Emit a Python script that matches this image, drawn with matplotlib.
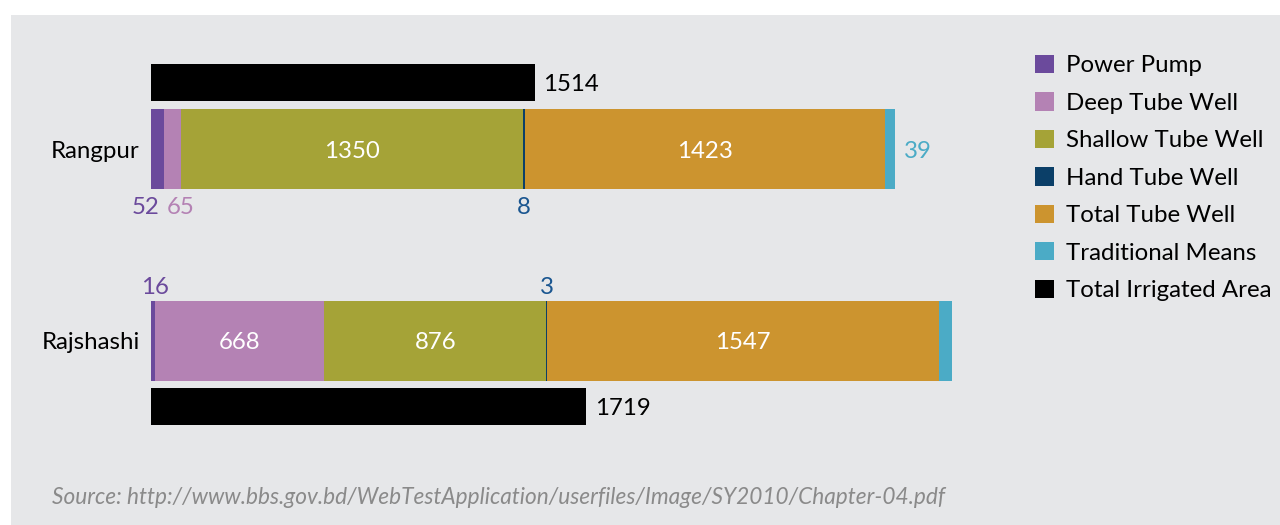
import matplotlib.pyplot as plt
from matplotlib.patches import Rectangle

plt.rcParams['font.family'] = ['Lato', 'DejaVu Sans']

regions = ["Rangpur", "Rajshashi"]
sources = ["Power Pump", "Deep Tube Well", "Shallow Tube Well", "Hand Tube Well",
           "Total Tube Well", "Traditional Means"]
rangpur = [52, 65, 1350, 8, 1423, 39]
rajshashi = [16, 668, 876, 3, 1547, 56]
total_irrigated = [1514, 1719]
total_label = "Total Irrigated Area"
source_note = "Source: http://www.bbs.gov.bd/WebTestApplication/userfiles/Image/SY2010/Chapter-04.pdf"

colors = ["#6b4a9c", "#b482b4", "#a5a337", "#0b3f68", "#cc942f", "#4babc6"]
label_colors = ["#6b4a9c", "#b482b4", None, "#1a5690", None, "#4babc6"]
bg = "#e6e7e9"
fs = 17.3

fig = plt.figure(figsize=(12.8, 5.25), dpi=100)
fig.patch.set_facecolor("white")
fig.patches.append(Rectangle((11 / 1280, 0), 1 - 11 / 1280, 510 / 525,
                             transform=fig.transFigure, facecolor=bg,
                             edgecolor="none", zorder=-10))

# axes: x=0 at px 151, 801 px wide; y from px 40 to 440
ax = fig.add_axes([151 / 1280, 85 / 525, 801 / 1280, 400 / 525])
ax.set_facecolor("none")
ax.set_xlim(0, 3162)
ax.set_ylim(1.516, -0.568)
for s in ax.spines.values():
    s.set_visible(False)
ax.set_xticks([])
ax.set_yticks([0, 1])
ax.set_yticklabels(regions, fontsize=fs)
ax.tick_params(axis="y", length=0, pad=8)

stack_h = 0.417
tot_h = 0.193
tot_off = [-0.346, 0.341]
dy = -2  # small downward nudge for value labels

data = [rangpur, rajshashi]
handles = []
for i, vals in enumerate(data):
    left = 0
    for j, v in enumerate(vals):
        b = ax.barh(i, v, left=left, height=stack_h, color=colors[j], linewidth=0)
        if i == 0:
            handles.append(b)
        left += v
    tb = ax.barh(i + tot_off[i], total_irrigated[i], height=tot_h, color="black", linewidth=0)
    if i == 0:
        tot_handle = tb
    ax.annotate(str(total_irrigated[i]), (total_irrigated[i], i + tot_off[i]),
                xytext=(9, dy), textcoords="offset pixels", ha="left", va="center",
                fontsize=fs, color="black")

# inside labels
for i, vals in enumerate(data):
    lefts = [sum(vals[:k]) for k in range(len(vals))]
    for j in range(len(vals)):
        if vals[j] >= 500:
            ax.annotate(str(vals[j]), (lefts[j] + vals[j] / 2, i), xytext=(0, dy),
                        textcoords="offset pixels", ha="center", va="center",
                        color="white", fontsize=fs)

# small outside labels - Rangpur (below)
r_l = [sum(rangpur[:k]) for k in range(len(rangpur))]
yb = stack_h / 2
ax.annotate(str(rangpur[0]), (r_l[1], yb), xytext=(-5, -18), textcoords="offset pixels",
            ha="right", va="center", fontsize=fs, color=label_colors[0])
ax.annotate(str(rangpur[1]), (r_l[1], yb), xytext=(3, -18), textcoords="offset pixels",
            ha="left", va="center", fontsize=fs, color=label_colors[1])
ax.annotate(str(rangpur[3]), (r_l[3] + rangpur[3] / 2, yb), xytext=(0, -18),
            textcoords="offset pixels", ha="center", va="center", fontsize=fs,
            color=label_colors[3])
ax.annotate(str(rangpur[5]), (sum(rangpur), 0), xytext=(9, dy), textcoords="offset pixels",
            ha="left", va="center", fontsize=fs, color=label_colors[5])

# Rajshashi (above)
j_l = [sum(rajshashi[:k]) for k in range(len(rajshashi))]
yt = 1 - stack_h / 2
ax.annotate(str(rajshashi[0]), (rajshashi[0] / 2, yt), xytext=(2, 13), textcoords="offset pixels",
            ha="center", va="center", fontsize=fs, color=label_colors[0])
ax.annotate(str(rajshashi[3]), (j_l[3] + rajshashi[3] / 2, yt), xytext=(0, 13),
            textcoords="offset pixels", ha="center", va="center", fontsize=fs,
            color=label_colors[3])
ax.annotate(str(rajshashi[5]), (sum(rajshashi), 1), xytext=(9, dy), textcoords="offset pixels",
            ha="left", va="center", fontsize=fs, color=label_colors[5])

fig.legend(handles + [tot_handle], sources + [total_label], loc="upper left",
           bbox_to_anchor=(1035 / 1280, 1 - 55 / 525), frameon=False, fontsize=fs,
           handlelength=0.79, handleheight=0.79, handletextpad=0.5, labelspacing=0.665,
           borderpad=0, borderaxespad=0)

fig.text(52 / 1280, 1 - 498 / 525, source_note, fontsize=16.3, style="italic",
         color="#8a8a8a", ha="left", va="center")

fig.savefig("out.png", dpi=100, facecolor=fig.get_facecolor())
